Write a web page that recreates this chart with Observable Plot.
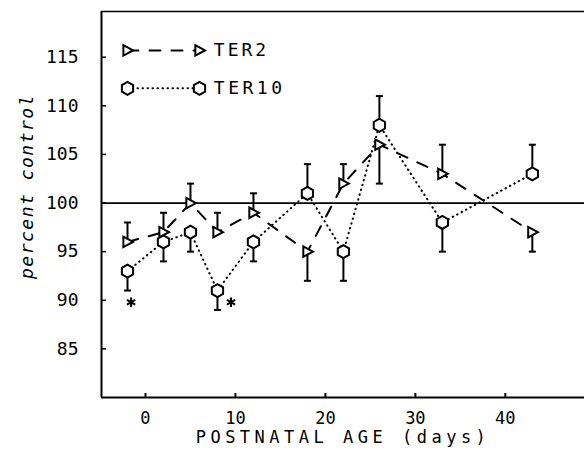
<!DOCTYPE html>
<html><head><meta charset="utf-8">
<script src="https://cdn.jsdelivr.net/npm/d3@7"></script>
<script src="https://cdn.jsdelivr.net/npm/@observablehq/plot@0.6"></script>
<style>
body{margin:0;background:#fff}
</style>
</head><body><div id="chart"></div>
<script>
// ---- data ----
const days = [-2, 2, 5, 8, 12, 18, 22, 26, 33, 43];
const ter2 = [96, 97, 100, 97, 99, 95, 102, 106, 103, 97];
const ter2Err = [98, 99, 102, 99, 101, 92, 104, 102, 106, 95];
const ter10 = [93, 96, 97, 91, 96, 101, 95, 108, 98, 103];
const ter10Err = [91, 94, 95, 89, 94, 104, 92, 111, 95, 106];
const sigDays = [-1.6, 9.5];
const sigValues = [89.8, 89.8];
const xTicks = [0, 10, 20, 30, 40];
const yTicks = [85, 90, 95, 100, 105, 110, 115];
const seriesNames = ["TER2", "TER10"];
const legendX = [-2, 6];
const legendTextX = 7.6;
const legendY = [115.7, 111.8];
const controlLevel = 100;
const xLabel = "POSTNATAL AGE (days)";
const yLabel = "percent control";
const xDomain = [-4.89, 48.8];
const yDomain = [80, 119.7];

// ---- tables ----
const rows2 = days.map((d, i) => ({x: d, y: ter2[i], e: ter2Err[i]}));
const rows10 = days.map((d, i) => ({x: d, y: ter10[i], e: ter10Err[i]}));
const sig = sigDays.map((d, i) => ({x: d, y: sigValues[i]}));
const legendRows = seriesNames.flatMap((n, i) => legendX.map(x => ({name: n, x, y: legendY[i]})));
const legendText = seriesNames.map((n, i) => ({name: n, x: legendTextX, y: legendY[i]}));

// ---- custom symbols ----
const rad = s => Math.sqrt(s / Math.PI);
const triRight = {draw(c, s) { const r = rad(s); c.moveTo(r, 0); c.lineTo(-0.75 * r, -0.95 * r); c.lineTo(-0.75 * r, 0.95 * r); c.closePath(); }};
const hexSym = {draw(c, s) { const r = rad(s); for (let k = 0; k < 6; k++) { const a = Math.PI / 6 + k * Math.PI / 3; const px = r * Math.cos(a), py = r * Math.sin(a); k ? c.lineTo(px, py) : c.moveTo(px, py); } c.closePath(); }};
const capSym = {draw(c, s) { const r = rad(s); c.moveTo(-r, 0); c.lineTo(r, 0); }};

const chart = Plot.plot({
  width: 584, height: 454,
  marginLeft: 101, marginRight: 0, marginTop: 11, marginBottom: 57,
  x: {domain: xDomain},
  y: {domain: yDomain},
  style: {fontFamily: "'DejaVu Sans Mono', monospace", fontSize: "18px", color: "black", background: "white"},
  marks: [
    Plot.ruleY([controlLevel], {stroke: "black", strokeWidth: 1.8}),
    Plot.line(rows2, {x: "x", y: "y", stroke: "black", strokeWidth: 2, strokeDasharray: "11,11"}),
    Plot.line(rows10, {x: "x", y: "y", stroke: "black", strokeWidth: 2, strokeDasharray: "0.5,4.5", strokeLinecap: "round"}),
    Plot.ruleX(rows2, {x: "x", y1: "y", y2: "e", stroke: "black", strokeWidth: 2}),
    Plot.ruleX(rows10, {x: "x", y1: "y", y2: "e", stroke: "black", strokeWidth: 2}),
    Plot.dot(rows2, {x: "x", y: "e", symbol: capSym, r: 3.5, stroke: "black", strokeWidth: 2}),
    Plot.dot(rows10, {x: "x", y: "e", symbol: capSym, r: 3.5, stroke: "black", strokeWidth: 2}),
    Plot.dot(rows2, {x: "x", y: "y", symbol: triRight, r: 5.5, stroke: "black", fill: "white", strokeWidth: 2}),
    Plot.dot(rows10, {x: "x", y: "y", symbol: hexSym, r: 6.5, stroke: "black", fill: "white", strokeWidth: 2}),
    Plot.dot(sig, {x: "x", y: "y", symbol: "asterisk", r: 4.5, stroke: "black", strokeWidth: 2}),
    // legend
    Plot.line(legendRows.filter(d => d.name === seriesNames[0]), {x: "x", y: "y", stroke: "black", strokeWidth: 2, strokeDasharray: "11,11"}),
    Plot.line(legendRows.filter(d => d.name === seriesNames[1]), {x: "x", y: "y", stroke: "black", strokeWidth: 2, strokeDasharray: "0.5,4.5", strokeLinecap: "round"}),
    Plot.dot(legendRows.filter(d => d.name === seriesNames[0]), {x: "x", y: "y", symbol: triRight, r: 5.5, stroke: "black", fill: "white", strokeWidth: 2}),
    Plot.dot(legendRows.filter(d => d.name === seriesNames[1]), {x: "x", y: "y", symbol: hexSym, r: 6.5, stroke: "black", fill: "white", strokeWidth: 2}),
    Plot.text(legendText, {x: "x", y: "y", text: "name", textAnchor: "start", fill: "black", fontSize: 18}),
    // frame
    Plot.ruleY([yDomain[0]], {stroke: "black", strokeWidth: 2}),
    Plot.ruleY([yDomain[1]], {stroke: "black", strokeWidth: 1.5}),
    Plot.ruleX([xDomain[0]], {stroke: "black", strokeWidth: 2}),
    // axes
    Plot.axisX(xTicks, {tickSize: -4, tickPadding: 18, label: null, strokeWidth: 2, fontSize: 17}),
    Plot.axisY(yTicks, {tickSize: -5, tickPadding: 28, label: null, strokeWidth: 1.5, fontSize: 18}),
    Plot.text([xLabel], {frameAnchor: "bottom", dy: 45, fill: "black", fontSize: 17}),
    Plot.text([yLabel], {frameAnchor: "left", textAnchor: "middle", dx: -74, dy: -18, rotate: -90, fontStyle: "italic", fill: "black", fontSize: 18})
  ]
});
document.getElementById("chart").appendChild(chart);
// plotter-style letter spacing
const spacing = new Map([[xLabel, "4.5px"], [yLabel, "1.5px"], [seriesNames[0], "3px"], [seriesNames[1], "3.5px"]]);
d3.select(chart).selectAll("text").each(function() {
  const t = this.textContent;
  if (spacing.has(t)) this.style.letterSpacing = spacing.get(t);
});
</script>
</body></html>
